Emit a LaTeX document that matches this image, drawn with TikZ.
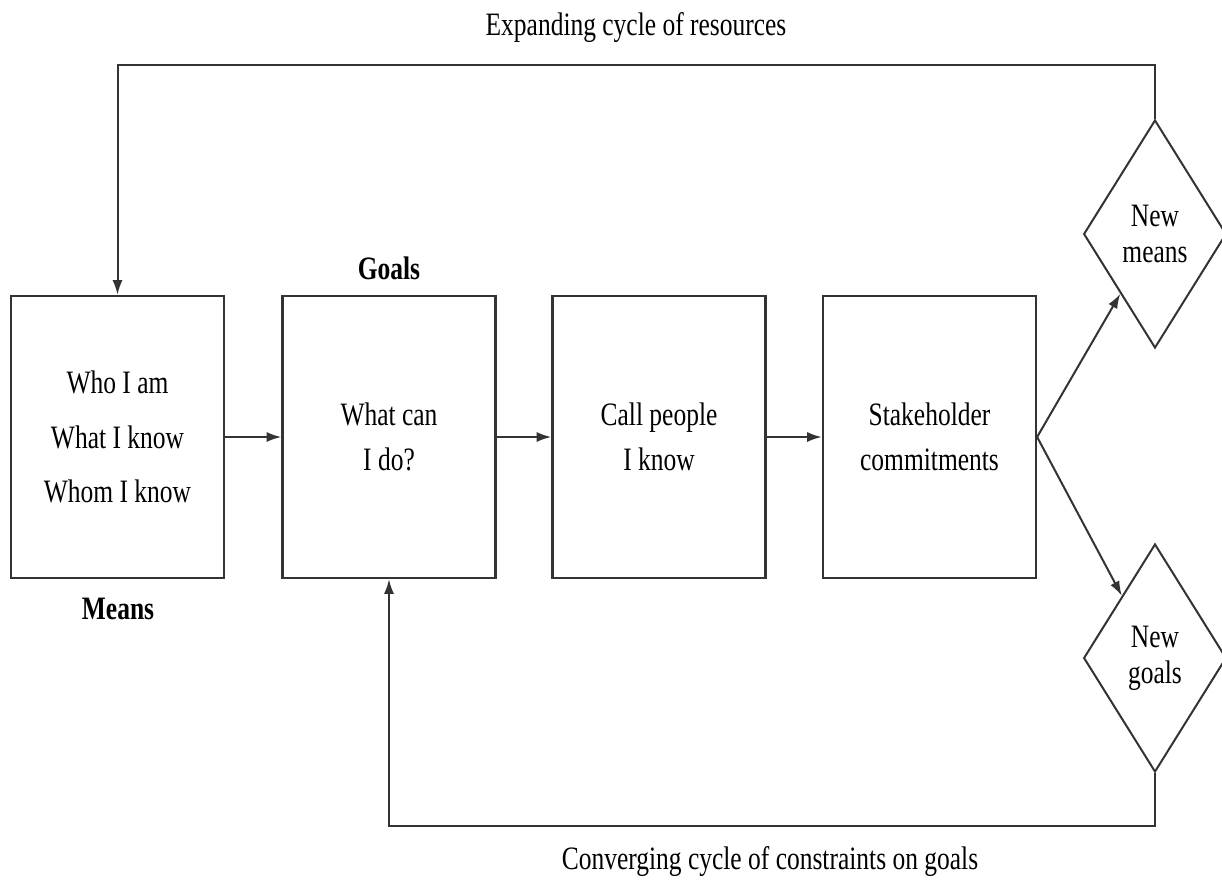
\documentclass[tikz,border=0pt]{standalone}
\usepackage{fontspec}
\setmainfont[FakeStretch=0.78]{Liberation Serif}
\usetikzlibrary{shapes.geometric,arrows.meta}
\begin{document}
\begin{tikzpicture}[x=0.75pt,y=-0.75pt,
  conn/.style={draw=black!80, line width=1.5pt, -{Latex[length=11pt,width=7.5pt]}},
  box/.style={draw=black!80, line width=1.7pt, minimum width=159.75pt, minimum height=211.5pt, inner sep=0pt, align=center, font=\fontsize{24.5}{34}\selectfont},
  dia/.style={draw=black!80, line width=1.5pt, diamond, shape aspect=0.61, minimum width=107pt, minimum height=171pt, inner sep=0pt, align=center, font=\fontsize{24.5}{27}\selectfont},
  lab/.style={inner sep=0pt, font=\fontsize{24.5}{28}\selectfont},
  blab/.style={inner sep=0pt, font=\fontsize{24.5}{28}\selectfont\bfseries}]
\useasboundingbox (0,0) rectangle (1222,896);
\node[box, font=\fontsize{24.5}{41}\selectfont] (b1) at (117.5,437) {Who I am\\What I know\\Whom I know};
\node[box] (b2) at (389,437) {What can\\I do?};
\node[box] (b3) at (659,437) {Call people\\I know};
\node[box] (b4) at (929.5,437) {Stakeholder\\commitments};
\node[dia] (d1) at (1155,234) {New\\means};
\node[dia] (d2) at (1155,658) {New\\goals};
\node[blab] (goals) at (389,268) {Goals};
\node[blab] (means) at (118,609) {Means};
\node[lab] (exp) at (636,28) {Expanding cycle of resources};
\node[lab] (conv) at (770,862) {Converging cycle of constraints on goals};
\coordinate (tr) at (1155,65);
\coordinate (tl) at (117.5,65);
\coordinate (br) at (1155,826);
\coordinate (bl) at (389,826);
\draw[conn] (b1) -- (b2);
\draw[conn] (b2) -- (b3);
\draw[conn] (b3) -- (b4);
\draw[conn] (b4.east) -- (d1);
\draw[conn] (b4.east) -- (d2);
\draw[conn] (d1.north) -- (tr) -- (tl) -- (b1.north);
\draw[conn] (d2.south) -- (br) -- (bl) -- (b2.south);
\end{tikzpicture}
\end{document}
